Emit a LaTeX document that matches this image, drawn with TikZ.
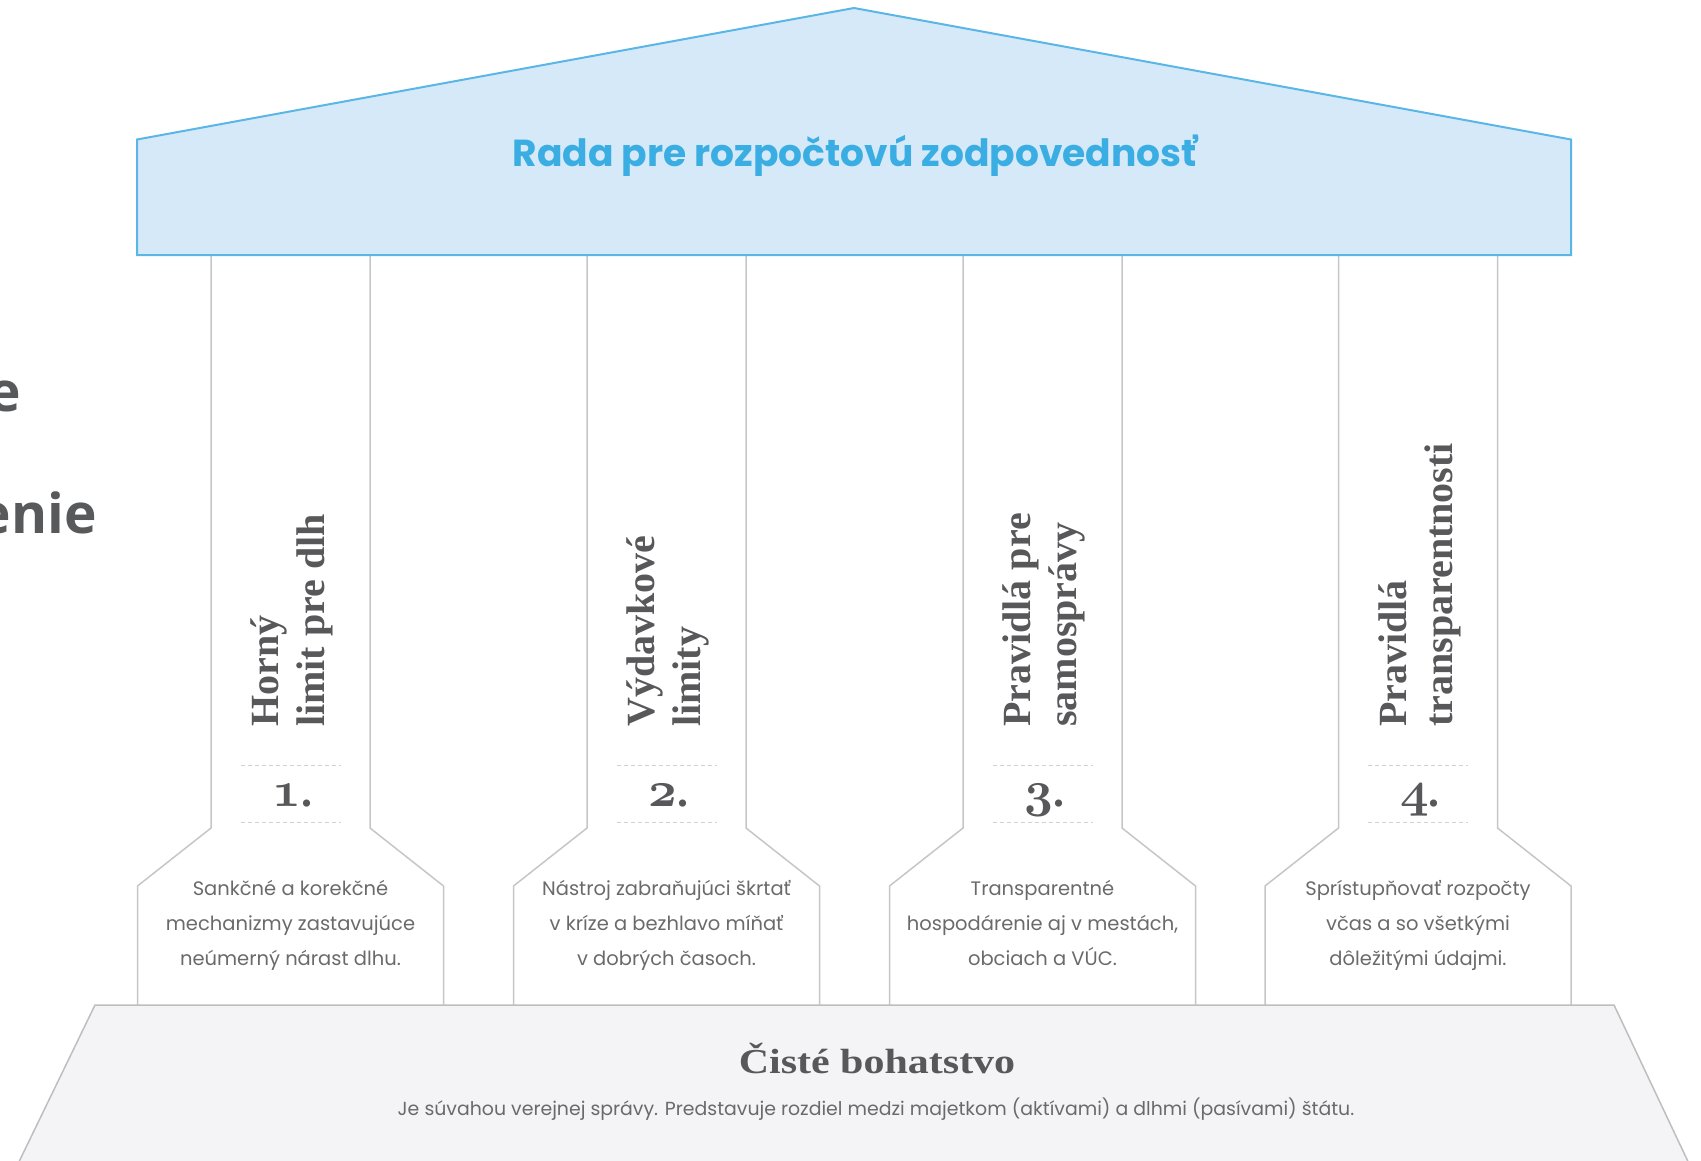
\documentclass[tikz,border=0pt]{standalone}
\usepackage{fontspec}
\setmainfont{Liberation Serif}
\newfontfamily\geofont{Poppins}
\newfontfamily\opensansfont{Open Sans}
\font\oldnum=cmmib10 at 50pt
\definecolor{roofFill}{HTML}{D6E9F8}
\definecolor{roofLine}{HTML}{5AB6E6}
\definecolor{titleBlue}{HTML}{3AAEE3}
\definecolor{pillarLine}{HTML}{C6C6C8}
\definecolor{dashCol}{HTML}{D2D2D4}
\definecolor{baseFill}{HTML}{F4F4F6}
\definecolor{baseLine}{HTML}{BEBEC0}
\definecolor{titleGray}{HTML}{58585A}
\definecolor{bodyGray}{HTML}{6A6A6C}
\definecolor{leftGray}{HTML}{58595B}
\begin{document}
\begin{tikzpicture}[x=1pt,y=-1pt,
  roof/.style={draw=roofLine, fill=roofFill, line width=2pt, line join=miter},
  pillar/.style={draw=pillarLine, line width=1.5pt},
  basebox/.style={draw=baseLine, fill=baseFill, line width=1.5pt},
  dashln/.style={draw=dashCol, line width=1pt, dash pattern=on 4pt off 3pt},
  ptitle/.style={font=\bfseries\fontsize{40}{47}\selectfont, text=titleGray, rotate=90, anchor=base west, inner sep=0pt},
  numlab/.style={anchor=base, inner sep=0pt, text=titleGray},
  descline/.style={font=\geofont\fontsize{19.5}{24}\selectfont, text=bodyGray, anchor=base, inner sep=0pt},
  leftfrag/.style={font=\opensansfont\bfseries\fontsize{55}{60}\selectfont, text=leftGray, anchor=base east, inner sep=0pt}
]
\useasboundingbox (0,0) rectangle (1701,1160);
\clip (0,0) rectangle (1701,1160);

% left cut-off fragments
\node[leftfrag] (lf1) at (21,411) {e};
\node[leftfrag] (lf2) at (97,533) {enie};

% pillars
\foreach \c in {290.5,666.5,1042.5,1418}{
  \draw[pillar] (\c-79.5,255) -- (\c-79.5,828) -- (\c-153,886) -- (\c-153,1005);
  \draw[pillar] (\c+79.5,255) -- (\c+79.5,828) -- (\c+153,886) -- (\c+153,1005);
  \draw[dashln] (\c-50,765) -- (\c+50,765);
  \draw[dashln] (\c-50,822) -- (\c+50,822);
}

% roof
\draw[roof] (137,255) -- (137,139.5) -- (854,8) -- (1571,139.5) -- (1571,255) -- cycle;
\node[font=\geofont\bfseries\fontsize{37.6}{44}\selectfont, text=titleBlue, anchor=base, inner sep=0pt] (rt) at (855,166) {Rada pre rozpočtovú zodpovednosť};

% base
\draw[basebox] (95,1005) -- (1614,1005) -- (1692,1170) -- (15,1170) -- cycle;
\node[anchor=base, inner sep=0pt, text=titleGray] (bt) at (877,1073) {\scalebox{1.2}[1]{\bfseries\fontsize{35}{40}\selectfont Čisté bohatstvo}};
\node[anchor=base, inner sep=0pt, text=bodyGray, font=\geofont\fontsize{18.9}{22}\selectfont] (bs) at (876,1115) {Je súvahou verejnej správy. Predstavuje rozdiel medzi majetkom (aktívami) a dlhmi (pasívami) štátu.};

% pillar titles
\node[ptitle] (t1a) at (278.5,727) {Horný};
\node[ptitle] (t1b) at (324.5,727) {limit pre dlh};
\node[ptitle] (t2a) at (654.5,727) {Výdavkové};
\node[ptitle] (t2b) at (700.5,727) {limity};
\node[ptitle] (t3a) at (1030.5,727) {Pravidlá pre};
\node[ptitle] (t3b) at (1076.5,727) {samosprávy};
\node[ptitle] (t4a) at (1406,727) {Pravidlá};
\node[ptitle] (t4b) at (1452,727) {transparentnosti};

% numbers
\node[numlab] (n1) at (292.5,806) {{\oldnum 1}{\bfseries\fontsize{44}{44}\selectfont .}};
\node[numlab] (n2) at (668.5,806) {{\oldnum 2}{\bfseries\fontsize{44}{44}\selectfont .}};
\node[numlab] (n3) at (1044.5,806) {{\oldnum 3}{\bfseries\fontsize{44}{44}\selectfont .}};
\node[numlab] (n4) at (1420,806) {{\oldnum 4}{\bfseries\fontsize{44}{44}\selectfont .}};

% descriptions
\node[descline] (d1a) at (290.5,895) {Sankčné a korekčné};
\node[descline] (d1b) at (290.5,930) {mechanizmy zastavujúce};
\node[descline] (d1c) at (290.5,965) {neúmerný nárast dlhu.};
\node[descline] (d2a) at (666.5,895) {Nástroj zabraňujúci škrtať};
\node[descline] (d2b) at (666.5,930) {v kríze a bezhlavo míňať};
\node[descline] (d2c) at (666.5,965) {v dobrých časoch.};
\node[descline] (d3a) at (1042.5,895) {Transparentné};
\node[descline] (d3b) at (1042.5,930) {hospodárenie aj v mestách,};
\node[descline] (d3c) at (1042.5,965) {obciach a VÚC.};
\node[descline] (d4a) at (1418,895) {Sprístupňovať rozpočty};
\node[descline] (d4b) at (1418,930) {včas a so všetkými};
\node[descline] (d4c) at (1418,965) {dôležitými údajmi.};
\end{tikzpicture}
\end{document}
